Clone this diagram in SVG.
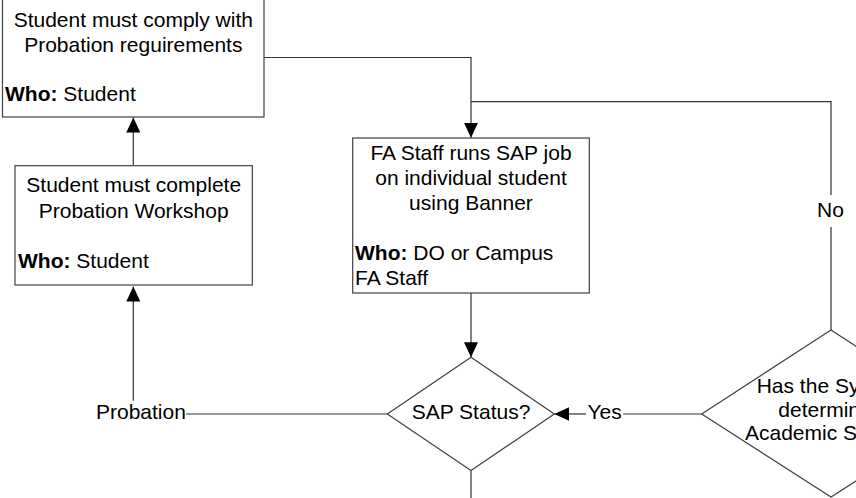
<svg xmlns="http://www.w3.org/2000/svg" width="856" height="498" viewBox="0 0 856 498">
<style>
.box{fill:#fff;stroke:#404040;stroke-width:1.2}
.con{fill:none;stroke:#333;stroke-width:1.2}
text{font-family:"Liberation Sans",Arial,sans-serif;font-size:21px;fill:#000}
.c{text-anchor:middle}
.b{font-weight:bold}
</style>
<defs>
<marker id="ah" viewBox="0 0 15 14" refX="15" refY="7" markerWidth="15" markerHeight="14" markerUnits="userSpaceOnUse" orient="auto">
<path d="M0,0 L15,7 L0,14 z" fill="#000"/>
</marker>
</defs>
<rect width="856" height="498" fill="#fff"/>
<g id="connectors">
<path class="con" d="M133.3,165.7 V117.5" marker-end="url(#ah)"/>
<path class="con" d="M387.3,414 H186"/>
<path class="con" d="M133.3,400.7 V286.5" marker-end="url(#ah)"/>
<path class="con" d="M264,57.5 H471 V137.8" marker-end="url(#ah)"/>
<path class="con" d="M831,330 V227"/>
<path class="con" d="M831,195 V101.7 H471"/>
<path class="con" d="M471,293 V357.3" marker-end="url(#ah)"/>
<path class="con" d="M701.7,414 H623"/>
<path class="con" d="M586,414 H554.3" marker-end="url(#ah)"/>
<path class="con" d="M471,470.5 V498"/>
<text class="c" x="830.5" y="216.7">No</text>
<text x="587.5" y="419.3">Yes</text>
<text x="96" y="419.3">Probation</text>
</g>
<g id="box-comply">
<rect class="box" x="2.5" y="-10" width="261.5" height="127"/>
<text class="c" x="133.3" y="26.7">Student must comply with</text>
<text class="c" x="133.3" y="51.7">Probation reguirements</text>
<text x="5" y="101"><tspan class="b">Who:</tspan> Student</text>
</g>
<g id="box-workshop">
<rect class="box" x="15" y="165.7" width="237.3" height="119.3"/>
<text class="c" x="133.7" y="191.7">Student must complete</text>
<text class="c" x="133.7" y="218">Probation Workshop</text>
<text x="18" y="268"><tspan class="b">Who:</tspan> Student</text>
</g>
<g id="box-fa">
<rect class="box" x="352.7" y="138" width="236.6" height="155"/>
<text class="c" x="471" y="160">FA Staff runs SAP job</text>
<text class="c" x="471" y="185">on individual student</text>
<text class="c" x="471" y="209.5">using Banner</text>
<text x="355" y="260"><tspan class="b">Who:</tspan> DO or Campus</text>
<text x="355" y="285">FA Staff</text>
</g>
<g id="decision-sap">
<polygon class="box" points="471,357.3 554.3,414 471,470.5 387.3,414"/>
<text class="c" x="471" y="419.3">SAP Status?</text>
</g>
<g id="decision-system">
<polygon class="box" points="831,330 960,414 831,497 701.7,414"/>
<text x="756.7" y="393.3">Has the System</text>
<text x="778.3" y="416.7">determined</text>
<text x="745" y="440">Academic Status?</text>
</g>
</svg>
